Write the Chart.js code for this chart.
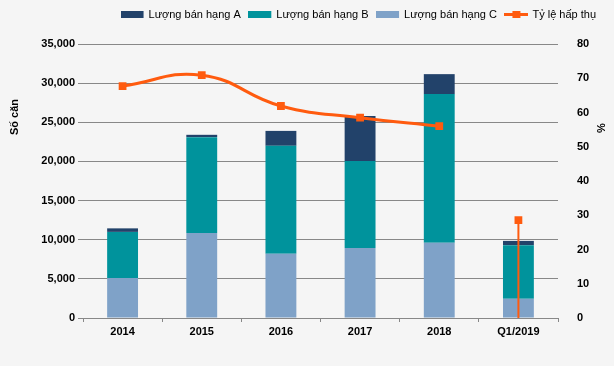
<!DOCTYPE html>
<html>
<head>
<meta charset="utf-8">
<script src="https://cdn.jsdelivr.net/npm/chart.js@4.4.1/dist/chart.umd.min.js"></script>
<style>
html, body { margin: 0; padding: 0; background: #f5f5f5; }
</style>
</head>
<body>
<canvas id="bieuDo" width="614" height="366"></canvas>
<script>
const categorias = ['2014', '2015', '2016', '2017', '2018', 'Q1/2019'];
const hangA = [450, 300, 1900, 5750, 2550, 550];
const hangB = [5900, 12250, 13800, 11100, 19000, 6850];
const hangC = [5100, 10850, 8200, 8950, 9600, 2450];
const tyLeHapThu = [67.7, 70.9, 61.9, 58.5, 56.0, 28.6];
const nhanSeries = ['Lượng bán hạng A', 'Lượng bán hạng B', 'Lượng bán hạng C', 'Tỷ lệ hấp thụ'];

const mauA = '#22426a';
const mauB = '#00939c';
const mauC = '#7fa2c8';
const mauCam = '#ff5b0f';
const font = '"Liberation Sans", Arial, sans-serif';

// o vuong cho chu giai
function hinhChuGiai(mau, laDuong) {
    const c = document.createElement('canvas');
    c.width = 24; c.height = 9;
    const g = c.getContext('2d');
    g.fillStyle = mau;
    if (laDuong) {
        g.fillRect(0, 3, 24, 3);
        g.fillRect(8, 1, 8, 7);
    } else {
        g.fillRect(0, 1, 23, 7);
    }
    return c;
}
const hinhLegend = [hinhChuGiai(mauC), hinhChuGiai(mauB), hinhChuGiai(mauA), hinhChuGiai(mauCam, true)];
const thuTuLegend = { 2: 0, 1: 1, 0: 2, 3: 3 };

function veChuXoay(ctx, text, x, y) {
    ctx.save();
    ctx.font = 'bold 11px ' + font;
    ctx.fillStyle = '#000';
    ctx.textAlign = 'center';
    ctx.textBaseline = 'middle';
    ctx.translate(x, y);
    ctx.rotate(-Math.PI / 2);
    ctx.fillText(text, 0, 0);
    ctx.restore();
}

const tieuDeTruc = {
    id: 'tieuDeTruc',
    afterDraw(chart) {
        veChuXoay(chart.ctx, 'Số căn', 15, 117);
        veChuXoay(chart.ctx, '%', 602, 128);
    }
};

const chieuCaoLegend = {
    id: 'chieuCaoLegend',
    afterInit(chart) {
        const fit = chart.legend.fit;
        chart.legend.fit = function () {
            fit.call(this);
            this.height = 44;
        };
    }
};

const ctx = document.getElementById('bieuDo').getContext('2d');
new Chart(ctx, {
    data: {
        labels: categorias,
        datasets: [
            { type: 'bar', label: nhanSeries[2], data: hangC, backgroundColor: mauC, yAxisID: 'y', order: 2, barPercentage: 0.39, categoryPercentage: 1 },
            { type: 'bar', label: nhanSeries[1], data: hangB, backgroundColor: mauB, yAxisID: 'y', order: 2, barPercentage: 0.39, categoryPercentage: 1 },
            { type: 'bar', label: nhanSeries[0], data: hangA, backgroundColor: mauA, yAxisID: 'y', order: 2, barPercentage: 0.39, categoryPercentage: 1 },
            {
                type: 'line', label: nhanSeries[3],
                data: tyLeHapThu.map((v, i) => i < tyLeHapThu.length - 1 ? v : null),
                borderColor: mauCam, backgroundColor: mauCam, borderWidth: 3,
                pointStyle: 'rect', pointRadius: 5.5, pointBorderWidth: 0,
                tension: 0.45, yAxisID: 'y1', order: 1
            },
            {
                type: 'line', label: 'Q1',
                data: [{ x: categorias[5], y: 0 }, { x: categorias[5], y: tyLeHapThu[5] }],
                borderColor: mauCam, backgroundColor: mauCam, borderWidth: 2,
                pointStyle: 'rect', pointRadius: [0, 5.5], pointBorderWidth: 0,
                yAxisID: 'y1', order: 1
            }
        ]
    },
    options: {
        responsive: false,
        animation: false,
        layout: { padding: { right: 9 } },
        plugins: {
            tooltip: { enabled: false },
            legend: {
                align: 'end',
                labels: {
                    usePointStyle: true,
                    pointStyleWidth: 21,
                    boxHeight: 7,
                    padding: 9,
                    color: '#000',
                    font: { family: font, size: 11 },
                    filter: item => item.datasetIndex !== 4,
                    sort: (a, b) => thuTuLegend[a.datasetIndex] - thuTuLegend[b.datasetIndex],
                    generateLabels(chart) {
                        const items = Chart.defaults.plugins.legend.labels.generateLabels(chart);
                        items.forEach(it => { if (hinhLegend[it.datasetIndex]) it.pointStyle = hinhLegend[it.datasetIndex]; });
                        return items;
                    }
                }
            }
        },
        scales: {
            x: {
                stacked: true,
                grid: { display: true, drawOnChartArea: false, offset: true, tickLength: 4, color: '#888' },
                border: { color: '#888' },
                ticks: { color: '#000', padding: 3, font: { family: font, size: 11, weight: 'bold' } },
                afterFit: s => { s.height = 48; }
            },
            y: {
                stacked: true,
                position: 'left',
                min: 0, max: 35000,
                grid: { color: '#888', tickLength: 5 },
                border: { display: false },
                ticks: { stepSize: 5000, color: '#000', padding: 3, font: { family: font, size: 11, weight: 'bold' },
                    callback: v => v.toLocaleString('en-US') },
                afterFit: s => { s.width = 83; }
            },
            y1: {
                position: 'right',
                min: 0, max: 80,
                grid: { display: false },
                border: { display: false },
                ticks: { stepSize: 10, color: '#000', padding: 11, font: { family: font, size: 11, weight: 'bold' } },
                afterFit: s => { s.width = 47; }
            }
        }
    },
    plugins: [tieuDeTruc, chieuCaoLegend]
});
</script>
</body>
</html>
